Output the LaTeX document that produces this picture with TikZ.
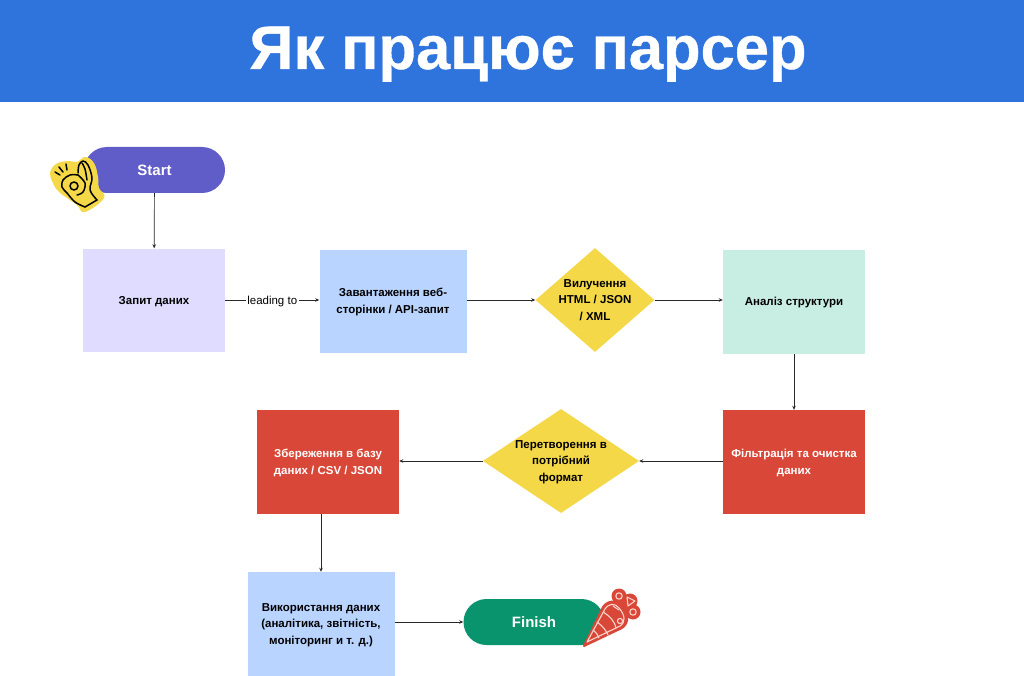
\documentclass[tikz,border=0pt]{standalone}
\usepackage{fontspec}
\setmainfont{Liberation Sans}
\newfontfamily\titlefont[FakeBold=0.6]{Liberation Sans}
\usetikzlibrary{shapes.geometric,arrows.meta}
\definecolor{azul}{RGB}{47,116,220}
\definecolor{violeta}{RGB}{96,92,200}
\definecolor{lila}{RGB}{224,220,255}
\definecolor{celeste}{RGB}{184,212,255}
\definecolor{menta}{RGB}{200,238,228}
\definecolor{rojo}{RGB}{216,71,56}
\definecolor{amarillo}{RGB}{244,216,72}
\definecolor{verde}{RGB}{10,148,110}
\definecolor{linea}{RGB}{40,40,40}
\definecolor{rosado}{RGB}{250,214,204}
\tikzset{
  x=1pt, y=-1pt,
  caja/.style={minimum width=#1, inner sep=2pt, align=center, text depth=0pt, font=\bfseries\fontsize{11.5}{16.5}\selectfont, text=black},
  pill/.style={rounded corners=23pt, minimum width=141pt, minimum height=46pt, inner sep=0pt, text=white, text depth=0pt, font=\bfseries\fontsize{15}{17}\selectfont},
  rombo/.style={diamond, fill=amarillo, inner sep=0pt},
  rombotxt/.style={align=center, text depth=0pt, font=\bfseries\fontsize{11.5}{16.2}\selectfont},
  flecha/.style={draw=linea, line width=0.7pt, -{Stealth[length=4pt,width=3.5pt]}},
  mano/.style={draw=black, line width=1.5pt, line cap=round, line join=round},
  ramo/.style={draw=rosado, line width=1.1pt, line cap=round, line join=round},
}
\begin{document}
\begin{tikzpicture}
    \useasboundingbox (0,0) rectangle (1024,676);
    \fill[azul] (0,0) rectangle (1024,102);
    \node[text=white, anchor=base, font=\titlefont\bfseries\fontsize{61.5}{70}\selectfont] (titulo) at (528,69) {Як працює парсер};

    \node[pill, fill=violeta] (inicio) at (154.5,170) {Start};
    \node[caja=142pt, minimum height=103pt, fill=lila] (zapyt) at (154,300) {Запит даних};
    \node[caja=147pt, minimum height=103pt, fill=celeste] (zavant) at (393,301) {Завантаження веб-\\сторінки / API-запит};
    \node[rombo, minimum width=119pt, minimum height=104pt, label={[rombotxt]center:Вилучення\\HTML / JSON\\/ XML}] (vyluch) at (595,300) {};
    \node[caja=142pt, minimum height=104pt, fill=menta] (analiz) at (794,302) {\raisebox{1pt}{Аналіз структури}};
    \node[caja=142pt, minimum height=104pt, fill=rojo, text=white] (filtr) at (794,462) {Фільтрація та очистка\\даних};
    \node[rombo, minimum width=156pt, minimum height=104pt, label={[rombotxt]center:Перетворення в\\потрібний\\формат}] (peretv) at (561,461) {};
    \node[caja=142pt, minimum height=104pt, fill=rojo, text=white] (zber) at (328,462) {Збереження в базу\\даних / CSV / JSON};
    \node[caja=147pt, minimum height=104pt, fill=celeste] (vykor) at (321,624) {Використання даних\\(аналітика, звітність,\\моніторинг и т. д.)};
    \node[pill, fill=verde] (fin) at (534,622) {Finish};

    \draw[flecha] (inicio) -- (zapyt);
    \draw[flecha] (zapyt.east |- 0,300) -- node[fill=white, inner sep=1.5pt, text depth=0pt, font=\fontsize{11.5}{14}\selectfont] (etiqueta) {leading to} (zavant.west |- 0,300);
    \draw[flecha] (zavant.east |- 0,300) -- (vyluch);
    \draw[flecha] (vyluch) -- (analiz.west |- 0,300);
    \draw[flecha] (analiz) -- (filtr);
    \draw[flecha] (filtr.west |- 0,461) -- (peretv);
    \draw[flecha] (peretv) -- (zber.east |- 0,461);
    \draw[flecha] (vykor |- zber.south) -- (vykor);
    \draw[flecha] (vykor.east |- 0,622) -- (fin);

    % hand sticker on the start pill
    \fill[amarillo] plot[smooth cycle, tension=0.7] coordinates {(50,173) (56,164) (68,161) (77,162) (85,157) (94,163) (98,177) (99,188) (104,198) (85,212) (77,205) (67,198) (58,191) (53,183)};
    \draw[mano] plot[smooth, tension=0.6] coordinates {(78,175) (70,175) (63,180) (62,187) (67,193) (75,202) (85,207)};
    \draw[mano] (85,207) -- (97,200);
    \draw[mano] plot[smooth, tension=0.6] coordinates {(97,200) (90,190) (92,178) (88,165) (83,161) (79,165) (78,173)};
    \draw[mano] plot[smooth, tension=0.6] coordinates {(82,163) (85,169) (87,180)};
    \draw[mano] plot[smooth, tension=0.6] coordinates {(78,175) (85,183) (83,192) (77,195)};
    \draw[mano] (74,186) circle (4);
    \draw[mano] (55,172) -- (60,175);
    \draw[mano] (59,167) -- (63,172);
    \draw[mano] (66,164) -- (67,170);

    % bouquet sticker on the finish pill
    \fill[rojo] (619,596) circle (7.5);
    \fill[rojo] (630,601) circle (7.5);
    \fill[rojo] (633,612) circle (7.5);
    \fill[rojo] (610,603) -- (619,596) -- (633,612) -- (625,622) -- cycle;
    \draw[draw=rojo, fill=rojo, line width=2pt, line join=round] (584,646) -- (603,607) .. controls (608,600) and (616,600) .. (621,606) .. controls (628,614) and (630,622) .. (622,628) -- cycle;
    \draw[ramo] (587,642) -- (605,609) .. controls (609,603) and (615,603) .. (619,608) .. controls (625,615) and (626,622) .. (620,626) -- cycle;
    \draw[ramo] (597,622) .. controls (603,626) and (607,632) .. (608,635);
    \draw[ramo] (593,630) .. controls (596,632) and (598,635) .. (599,638);
    \draw[ramo] (603,612) .. controls (610,616) and (615,622) .. (616,628);
    \draw[ramo] (619,596) circle (3.2);
    \draw[ramo] (627,597) -- (635,601) -- (628,606) -- cycle;
    \draw[ramo] (633,612) circle (3.2);
    \draw[ramo] (620,621) circle (2.6);
    \draw[ramo] (613,606) -- (619,610);
\end{tikzpicture}
\end{document}
